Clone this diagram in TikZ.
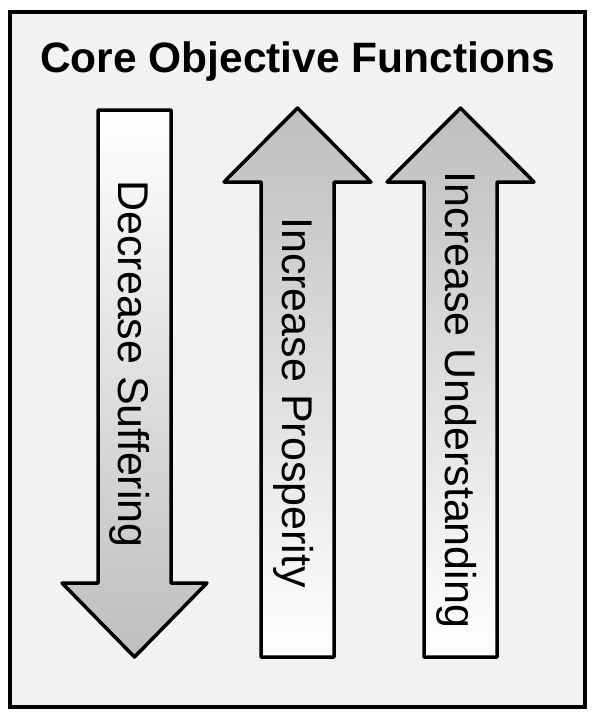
\documentclass[tikz,border=0pt]{standalone}
\usepackage{fontspec}
\setmainfont{Liberation Sans}
\usetikzlibrary{calc}
\usepackage{tkz-euclide}

\definecolor{panelgray}{HTML}{F2F2F2}
\definecolor{arrowgray}{HTML}{BEBEBE}

\tikzset{
  arrowpoly/.style={line width=3.5pt,draw=black},
  downshade/.style={arrowpoly,top color=white,bottom color=arrowgray},
  upshade/.style={arrowpoly,top color=arrowgray,bottom color=white},
  arrowtext/.style={rotate=-90,anchor=base,inner sep=0pt,
    font=\fontsize{43}{43}\selectfont}
}

\begin{document}
\begin{tikzpicture}[x=1pt,y=-1pt]
\useasboundingbox (0,0) rectangle (598,725);

\tkzDefPoints{10/12/F1,585/707/F2}
\draw[line width=3.5pt,fill=panelgray] (F1) rectangle (F2);

\node[font=\bfseries\fontsize{42.5}{42.5}\selectfont,anchor=base,inner sep=0pt]
  (title) at (297.5,72) {Core Objective Functions};

% down arrow
\tkzDefPoints{98/110/A1,171/110/A2,171/583/A3,207/583/A4,
  134.5/657/A5,62/583/A6,98/583/A7}
\tkzDrawPolygon[downshade](A1,A2,A3,A4,A5,A6,A7)

% up arrows
\tkzDefPoints{297.5/108/B1,371/182/B2,334/182/B3,334/657/B4,
  261/657/B5,261/182/B6,224/182/B7}
\tkzDrawPolygon[upshade](B1,B2,B3,B4,B5,B6,B7)

\tkzDefPoints{460.5/108/C1,534/182/C2,497/182/C3,497/657/C4,
  424/657/C5,424/182/C6,387/182/C7}
\tkzDrawPolygon[upshade](C1,C2,C3,C4,C5,C6,C7)

\node[arrowtext] (suffering) at (118,364) {Decrease Suffering};
\node[arrowtext] (prosperity) at (282,402.5) {Increase Prosperity};
\node[arrowtext] (understanding) at (445,400) {Increase Understanding};

\end{tikzpicture}
\end{document}
